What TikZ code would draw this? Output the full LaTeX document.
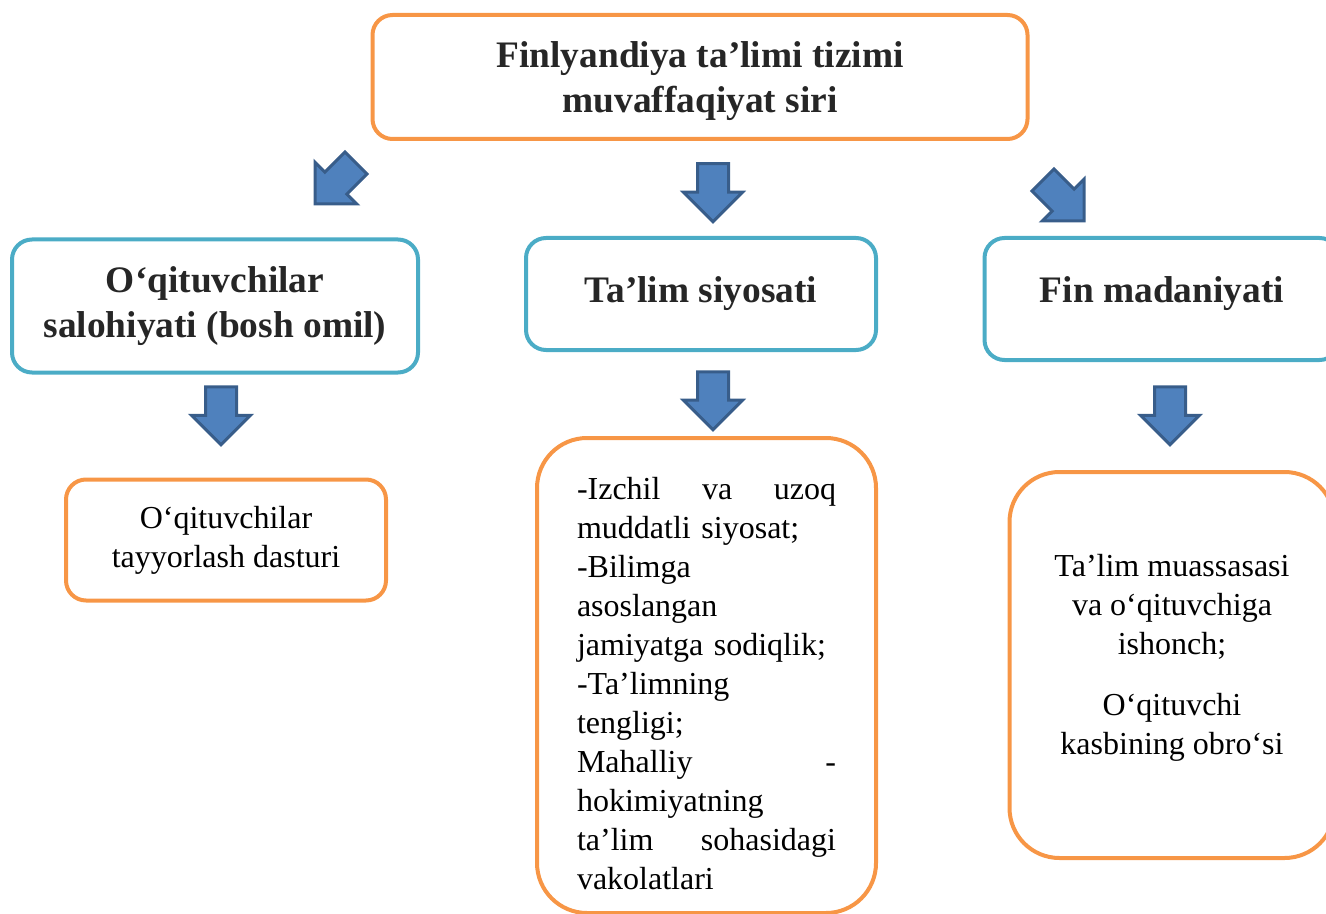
\documentclass[tikz,border=0pt]{standalone}
\usepackage{fontspec}
\setmainfont{Liberation Serif}
\usetikzlibrary{shapes.arrows}
\definecolor{boxorange}{HTML}{F79646}
\definecolor{boxblue}{HTML}{4BACC6}
\definecolor{arrowfill}{HTML}{4F81BD}
\definecolor{arrowline}{HTML}{385D8A}
\begin{document}
\begin{tikzpicture}[x=0.5pt,y=-0.5pt,
        titlebox/.style = {draw=boxorange,
            line width=2pt,
            rounded corners=10pt,
            align=center,
            text=black!85,
            font=\fontsize{18.7}{22.5}\selectfont\bfseries
            },
        headbox/.style = {titlebox,
            draw=boxblue
            },
        itembox/.style = {draw=boxorange,
            line width=2pt,
            rounded corners=10pt,
            font=\fontsize{16}{19.5}\selectfont
            },
        blockarrow/.style = {single arrow,
            draw=arrowline,
            fill=arrowfill,
            line width=1.5pt,
            inner xsep=0pt,
            inner ysep=7pt,
            minimum height=29pt,
            single arrow head extend=7pt
            }]

    \useasboundingbox (0,0) rectangle (1326,914);

    % Title
    \node[titlebox,minimum width=327.5pt,minimum height=62pt] (title) at (700,77)
        {\rule{0pt}{17pt}Finlyandiya ta’limi tizimi\\muvaffaqiyat siri};

    % Arrows from title
    \node[blockarrow,rotate=-135] (a1) at (341,178) {};
    \node[blockarrow,rotate=-90] (a2) at (713,185) {};
    \node[blockarrow,rotate=-45] (a3) at (1058,195) {};

    % Factors
    \node[headbox,minimum width=203pt,minimum height=66.5pt] (teach) at (215,306)
        {O‘qituvchilar\\salohiyati (bosh omil)};
    \node[headbox,minimum width=175pt,minimum height=56pt] (policy) at (701,294)
        {Ta’lim siyosati};
    \node[headbox,minimum width=177.5pt,minimum height=61pt] (culture) at (1162,299)
        {Fin madaniyati\rule[-9pt]{0pt}{0pt}};

    % Arrows to details
    \node[blockarrow,rotate=-90] (a4) at (221,408) {};
    \node[blockarrow,rotate=-90] (a5) at (713,393) {};
    \node[blockarrow,rotate=-90] (a6) at (1170,408) {};

    % Details
    \node[itembox,align=center,minimum width=160pt,minimum height=60.5pt] (train) at (226,540)
        {O‘qituvchilar\\tayyorlash dasturi};
    \node[itembox,rounded corners=25pt,align=left,text width=129.5pt,
          minimum width=169.5pt,minimum height=237.5pt] (rules) at (706.5,675.5)
        {\rule{0pt}{19pt}\makebox[\linewidth][s]{-Izchil\hfill va\hfill uzoq}\\
         muddatli siyosat;\\
         -Bilimga\\
         asoslangan\\
         jamiyatga sodiqlik;\\
         -Ta’limning\\
         tengligi;\\
         \makebox[\linewidth][s]{Mahalliy\hfill -}\\
         hokimiyatning\\
         \makebox[\linewidth][s]{ta’lim\hfill sohasidagi}\\
         vakolatlari};
    \node[itembox,rounded corners=25pt,align=center,minimum width=162.5pt,
          minimum height=193pt] (trust) at (1172,665)
        {Ta’lim muassasasi\\va o‘qituvchiga\\ishonch;\\[11pt]
         O‘qituvchi\\kasbining obro‘si\rule[-11pt]{0pt}{0pt}};

    \end{tikzpicture}
\end{document}
